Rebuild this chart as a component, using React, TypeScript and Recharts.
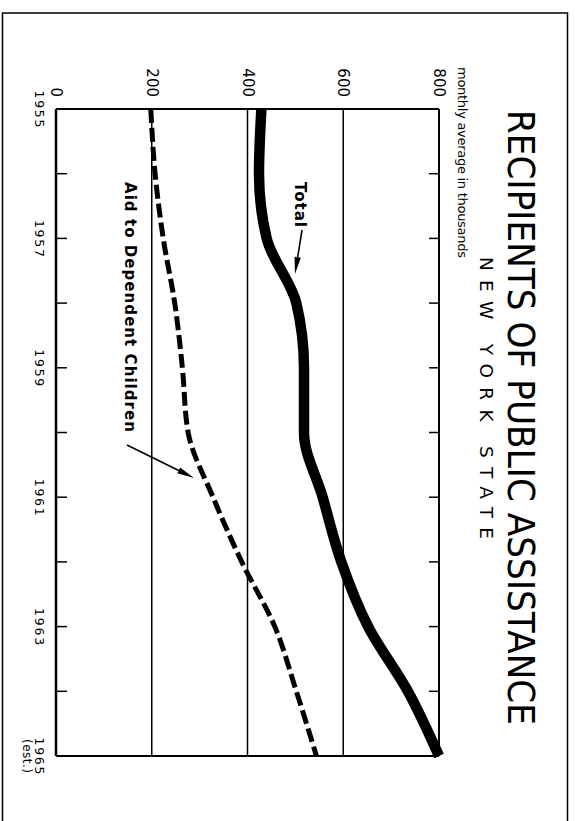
import { LineChart, Line, XAxis, YAxis, CartesianGrid, ReferenceLine } from 'recharts';

// values, thousands of recipients (monthly average)
const YEARS = [1955, 1956, 1957, 1958, 1959, 1960, 1961, 1962, 1963, 1964, 1965];
const TOTAL = [429, 424, 440, 502, 518, 518, 557, 596, 652, 735, 800];
const AID_DEPENDENT_CHILDREN = [198, 207, 224, 248, 264, 276, 328, 388, 457, 502, 544];
const YEAR_LABELS = ['1955', '', '1957', '', '1959', '', '1961', '', '1963', '', '1965'];
const VALUE_TICKS = [0, 200, 400, 600, 800];

const rows = YEARS.map((year, i) => ({
  year,
  total: TOTAL[i],
  adc: AID_DEPENDENT_CHILDREN[i],
}));

const FONT = '"DejaVu Sans", sans-serif';
const CHART_W = 821;
const CHART_H = 575;

const YearTick = (props: any) => {
  const { x, y, payload } = props;
  const i = YEARS.indexOf(payload.value);
  const label = YEAR_LABELS[i];
  return (
    <g>
      <line x1={x} y1={y} x2={x} y2={y - 11} stroke='#000' strokeWidth={1.5} />
      {label && (
        <text x={x} y={y + 21} textAnchor='middle' fontSize={12.5} fontFamily={FONT} textLength={37} fill='#000'>
          {label}
        </text>
      )}
      {payload.value === 1965 && (
        <text x={x} y={y + 33} textAnchor='middle' fontSize={12} fontFamily={FONT} textLength={34} fill='#000'>
          (est.)
        </text>
      )}
    </g>
  );
};

const TopTick = (props: any) => {
  const { x, y } = props;
  return <line x1={x} y1={y} x2={x} y2={y + 10} stroke='#000' strokeWidth={1.5} />;
};

const ValueTick = (props: any) => {
  const { x, y, payload } = props;
  return (
    <text x={x - 12} y={y} textAnchor='end' dominantBaseline='central' fontSize={15} fontFamily={FONT} fill='#000'>
      {payload.value}
    </text>
  );
};

// simple arrow with a narrow filled head, used for the two call-outs
const Arrow = ({ x1, y1, x2, y2 }: { x1: number; y1: number; x2: number; y2: number }) => {
  const dx = x2 - x1;
  const dy = y2 - y1;
  const len = Math.sqrt(dx * dx + dy * dy);
  const ux = dx / len;
  const uy = dy / len;
  const head = 17;
  const half = 3.2;
  const bx = x2 - ux * head;
  const by = y2 - uy * head;
  const pts = `${x2},${y2} ${bx - uy * half},${by + ux * half} ${bx + uy * half},${by - ux * half}`;
  return (
    <g>
      <line x1={x1} y1={y1} x2={bx} y2={by} stroke='#000' strokeWidth={1.6} />
      <polygon points={pts} fill='#000' />
    </g>
  );
};

const App = () => {
  return (
    <div style={{ position: 'absolute', left: 0, top: 0, width: 575, height: 821, background: '#fff', overflow: 'hidden' }}>
      {/* page frame */}
      <svg width={575} height={821} style={{ position: 'absolute', left: 0, top: 0 }}>
        <rect x={2.5} y={13} width={565} height={840} fill='none' stroke='#000' strokeWidth={1.5} />
      </svg>
      {/* the printed chart is turned a quarter turn clockwise */}
      <div
        style={{
          position: 'absolute',
          left: 0,
          top: 0,
          width: CHART_W,
          height: CHART_H,
          transform: 'translate(575px, 0px) rotate(90deg)',
          transformOrigin: '0 0',
        }}
      >
        <LineChart width={CHART_W} height={CHART_H} data={rows} margin={{ top: 135, right: 65, bottom: 55, left: 108 }}>
          <CartesianGrid vertical={false} stroke='#000' strokeWidth={1.5} />
          <XAxis
            dataKey='year'
            type='number'
            domain={[1955, 1965]}
            ticks={YEARS}
            interval={0}
            height={1}
            tickSize={0}
            tickMargin={0}
            tickLine={false}
            axisLine={{ stroke: '#000', strokeWidth: 2.5 }}
            tick={<YearTick />}
          />
          <XAxis
            xAxisId='top'
            orientation='top'
            dataKey='year'
            type='number'
            domain={[1955, 1965]}
            ticks={YEARS}
            interval={0}
            height={1}
            tickSize={0}
            tickMargin={0}
            tickLine={false}
            axisLine={{ stroke: '#000', strokeWidth: 2 }}
            tick={<TopTick />}
          />
          <YAxis
            type='number'
            domain={[0, 800]}
            ticks={VALUE_TICKS}
            interval={0}
            width={1}
            tickSize={0}
            tickMargin={0}
            tickLine={false}
            axisLine={false}
            tick={<ValueTick />}
          />
          <ReferenceLine x={1955} stroke='#000' strokeWidth={2} />
          <ReferenceLine x={1965} stroke='#000' strokeWidth={2} />
          <Line
            type='monotone'
            dataKey='adc'
            stroke='#000'
            strokeWidth={5}
            strokeDasharray='14 5'
            dot={false}
            activeDot={false}
            isAnimationActive={false}
          />
          <Line
            type='monotone'
            dataKey='total'
            stroke='#000'
            strokeWidth={10.5}
            dot={false}
            activeDot={false}
            isAnimationActive={false}
          />
        </LineChart>
        <svg width={CHART_W} height={CHART_H} style={{ position: 'absolute', left: 0, top: 0, pointerEvents: 'none' }}>
          <text x={110} y={67} fontSize={37} fontFamily={FONT} textLength={615} lengthAdjust='spacingAndGlyphs' fill='#000'>
            RECIPIENTS OF PUBLIC ASSISTANCE
          </text>
          <text x={257} y={95} fontSize={18.5} fontFamily={FONT} textLength={282} fill='#000'>
            NEW YORK STATE
          </text>
          <text x={67} y={117} fontSize={13} fontFamily={FONT} textLength={191} fill='#000'>
            monthly average in thousands
          </text>
          <text x={182} y={280} fontSize={15} fontWeight='bold' fontFamily={FONT} textLength={45} fill='#000'>
            Total
          </text>
          <Arrow x1={230} y1={273} x2={274} y2={280} />
          <text x={182} y={450} fontSize={15} fontWeight='bold' fontFamily={FONT} textLength={250} fill='#000'>
            Aid to Dependent Children
          </text>
          <Arrow x1={445} y1={448} x2={478} y2={381} />
        </svg>
      </div>
    </div>
  );
};

export default App;
